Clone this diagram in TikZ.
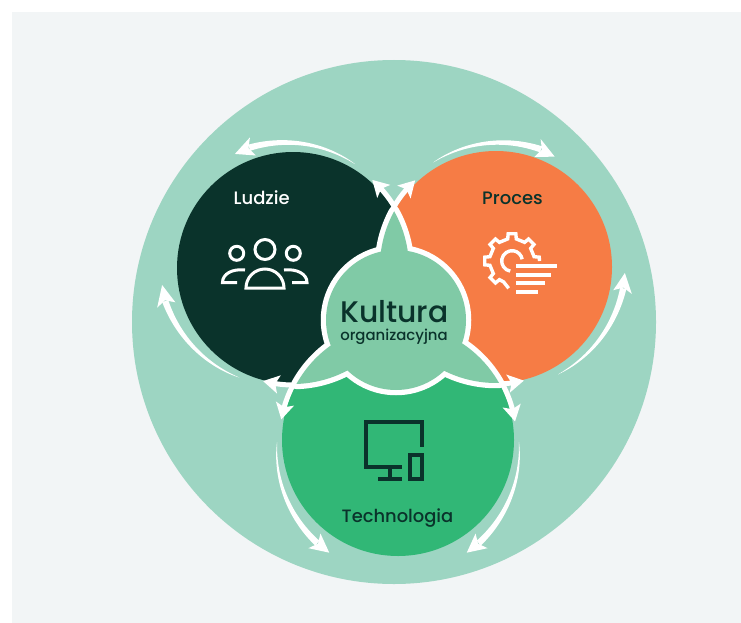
\documentclass[tikz,border=0pt]{standalone}
\usepackage{fontspec}
\setmainfont{Poppins Medium}
\usetikzlibrary{arrows.meta,bending}
\definecolor{bgpale}{HTML}{F2F5F6}
\definecolor{ringc}{HTML}{9DD5C2}
\definecolor{darkc}{HTML}{0A332B}
\definecolor{orangec}{HTML}{F67C45}
\definecolor{greenc}{HTML}{31B776}
\definecolor{blobc}{HTML}{80CAA6}
\tikzset{
  whead/.style={draw=white,line width=5pt,-{Stealth[length=16pt,width=18pt,inset=3.5pt,flex=1]}},
  halo/.style={draw=white,line width=10.5pt,line join=round},
  wicon/.style={draw=white,line width=3pt,fill=none},
  wgear/.style={draw=white,line width=3.4pt,fill=none,line join=miter},
  wbar/.style={draw=white,line width=4pt},
  dicon/.style={draw=darkc,line width=4pt,fill=none},
  lab/.style={inner sep=0pt,anchor=base},
}
% tapered arrow: cx cy, a0 (tail angle), a1 (head base angle), a2 (tip angle), r0, r1, rtip, halfwidth
\newcommand{\taperarrow}[9]{%
  \fill[white] plot[domain=0.001:1,samples=30,variable=\t]
     ({#1+(#6+(#7-#6)*\t+#9*pow(\t,0.8))*cos(#3+(#4-#3)*\t)},{#2+(#6+(#7-#6)*\t+#9*pow(\t,0.8))*sin(#3+(#4-#3)*\t)})
     -- plot[domain=1:0.001,samples=30,variable=\t]
     ({#1+(#6+(#7-#6)*\t-#9*pow(\t,0.8))*cos(#3+(#4-#3)*\t)},{#2+(#6+(#7-#6)*\t-#9*pow(\t,0.8))*sin(#3+(#4-#3)*\t)})
     -- cycle;
  \fill[white] ({#1+(#7+9.5)*cos(#4-0.25*(#5-#4))},{#2+(#7+9.5)*sin(#4-0.25*(#5-#4))})
     -- ({#1+#8*cos(#5)},{#2+#8*sin(#5)})
     -- ({#1+(#7-9.5)*cos(#4-0.25*(#5-#4))},{#2+(#7-9.5)*sin(#4-0.25*(#5-#4))})
     -- ({#1+#7*cos(#4+0.05*(#5-#4))},{#2+#7*sin(#4+0.05*(#5-#4))}) -- cycle;
}
\newcommand{\lensDO}{(293,268) ++(-29.3:116) arc[start angle=-29.3,end angle=28.7,radius=116] arc[start angle=150.7,end angle=208.7,radius=116] -- cycle}
\newcommand{\lensDG}{(293,268) ++(28.9:116) arc[start angle=28.9,end angle=88.3,radius=116] arc[start angle=208.9,end angle=268.3,radius=116] -- cycle}
\newcommand{\lensOG}{(496,267) ++(88.5:116) arc[start angle=88.5,end angle=150.5,radius=116] arc[start angle=-91.5,end angle=-29.5,radius=116] -- cycle}
\begin{document}
\begin{tikzpicture}[x=1pt,y=-1pt]
\useasboundingbox (0,0) rectangle (741,623);
\fill[white] (0,0) rectangle (741,623);
\fill[bgpale] (12,12) rectangle (741,623);
\fill[ringc] (394,322) circle (262);
% three circles
\fill[darkc] (293,268) circle (116);
\fill[orangec] (496,267) circle (116);
\fill[greenc] (398,440) circle (116);
% centre shape: white halo, then fill on top
\draw[halo] \lensDO;
\draw[halo] \lensDG;
\draw[halo] \lensOG;
\draw[halo] (396,320) circle (70);
\fill[blobc] \lensDO;
\fill[blobc] \lensDG;
\fill[blobc] \lensOG;
\fill[blobc] (396,320) circle (70);
% arrow extensions of the centre shape
\draw[whead] (293,268) ++(-30:118.5) arc[start angle=-30,end angle=-48,radius=118.5];
\draw[whead] (496,267) ++(210:118.5) arc[start angle=210,end angle=227,radius=118.5];
\draw[whead] (293,268) ++(89:117) arc[start angle=89,end angle=105,radius=116];
\draw[whead] (398,440) ++(208:118.5) arc[start angle=208,end angle=190,radius=118.5];
\draw[whead] (496,267) ++(88:117) arc[start angle=88,end angle=76,radius=115];
\draw[whead] (398,440) ++(-29:118.5) arc[start angle=-29,end angle=-9,radius=118.5];
% outer tapered arrows
\taperarrow{293}{268}{-59}{-110}{-117}{121}{128}{128}{3.2}
\taperarrow{496}{267}{-121}{-69}{-62}{122}{126}{125}{3.2}
\taperarrow{293}{268}{116}{165.5}{172.6}{122}{132}{132}{3.2}
\taperarrow{496}{267}{60}{9.5}{2.7}{124}{129}{129}{3.2}
\taperarrow{398}{440}{179}{128}{121.4}{121}{131}{132}{3.2}
\taperarrow{398}{440}{1}{52}{58.6}{121}{131}{132}{3.2}
% people icon
\draw[wicon] (265,249.5) circle (10);
\draw[wicon] (236.7,253.3) circle (7);
\draw[wicon] (293.3,253.3) circle (7);
\draw[wicon] (246,288) arc[start angle=180,end angle=360,radius=19] -- cycle;
\draw[wicon] (237,282.5) -- (222.5,282.5) .. controls (222.5,274) and (232,268.5) .. (245,270);
\draw[wicon] (292,282.5) -- (307,282.5) .. controls (307,274) and (297,268.5) .. (284,270);
% gear icon
\begin{scope}[shift={(512,261)}]
\draw[wgear] (97:27.5) -- (112:22.5)
  \foreach \a in {135,180,225,270,315} { -- (\a-11:22.5) -- (\a-8:27.5) -- (\a+8:27.5) -- (\a+11:22.5) }
  -- (349:22.5) -- (352:27.5) -- (0:27.5);
\draw[wgear] (100:10.3) arc[start angle=100,end angle=350,radius=10.3];
\end{scope}
\draw[wbar] (516,266) -- (557,266);
\draw[wbar] (516,275) -- (551,275);
\draw[wbar] (516,283) -- (545,283);
\draw[wbar] (516,292) -- (538,292);
% devices icon
\draw[dicon] (421.7,446.7) -- (421.7,422) -- (366.3,422) -- (366.3,467) -- (401.7,467);
\draw[dicon] (390,467) -- (390,479);
\draw[dicon] (378.3,479) -- (401.7,479);
\draw[dicon] (409.7,454.7) rectangle (421.7,478.7);
% labels
\node[lab,white] (ludzie) at (261.7,204) {\fontsize{18}{20}\selectfont Ludzie};
\node[lab,darkc] (proces) at (512.5,204) {\fontsize{18}{20}\selectfont Proces};
\node[lab,darkc] (tech) at (397.5,522.7) {\fontsize{17.9}{20}\selectfont Technologia};
\node[lab,darkc] (kultura) at (394.5,322) {\fontsize{29.8}{32}\selectfont Kultura};
\node[lab,darkc] (org) at (394,340) {\fontsize{14.9}{16}\selectfont organizacyjna};
\end{tikzpicture}
\end{document}
